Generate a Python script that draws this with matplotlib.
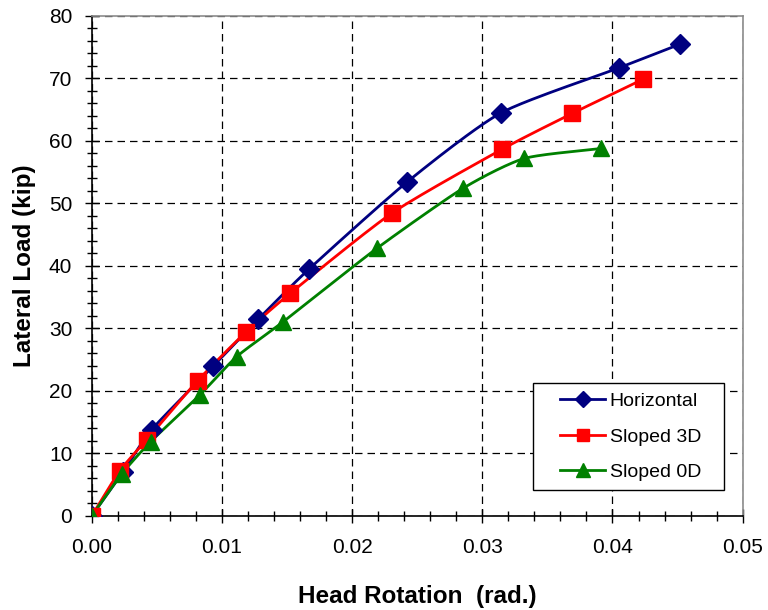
import numpy as np
import matplotlib
matplotlib.use("Agg")
import matplotlib.pyplot as plt
from matplotlib.ticker import MultipleLocator, FormatStrFormatter
from matplotlib.legend_handler import HandlerLine2D

plt.rcParams['font.family'] = ['Liberation Sans', 'DejaVu Sans']

# Head rotation (rad.) and lateral load (kip) for each test
horiz_x = [0.0, 0.00243, 0.0046, 0.00934, 0.0128, 0.01669, 0.0242, 0.03144, 0.0405, 0.0452]
horiz_y = [0.0, 7.1, 13.8, 24.0, 31.5, 39.5, 53.4, 64.5, 71.7, 75.5]

slope3_x = [0.0, 0.00217, 0.00422, 0.00814, 0.01183, 0.01523, 0.02309, 0.03154, 0.0369, 0.04237]
slope3_y = [0.0, 7.25, 12.2, 21.65, 29.4, 35.6, 48.5, 58.7, 64.4, 69.9]

slope0_x = [0.0, 0.0023, 0.00453, 0.00832, 0.01114, 0.01472, 0.02189, 0.0285, 0.03322, 0.0391]
slope0_y = [0.0, 6.7, 11.9, 19.4, 25.5, 31.1, 42.8, 52.4, 57.2, 58.8]

series_names = ["Horizontal", "Sloped 3D", "Sloped 0D"]


def smooth(xs, ys, n=24, k=0.33):
    """Cardinal spline through the given points (parametric, tangent factor k)."""
    p = np.column_stack([xs, ys]).astype(float)
    scale = np.array([1 / 0.05, 1 / 80.0])
    q = p * scale
    q = np.vstack([2 * q[0] - q[1], q, 2 * q[-1] - q[-2]])
    out = []
    t = np.linspace(0, 1, n, endpoint=False)[:, None]
    h00 = 2 * t ** 3 - 3 * t ** 2 + 1
    h10 = t ** 3 - 2 * t ** 2 + t
    h01 = -2 * t ** 3 + 3 * t ** 2
    h11 = t ** 3 - t ** 2
    for i in range(1, len(q) - 2):
        p0, p1, p2, p3 = q[i - 1], q[i], q[i + 1], q[i + 2]
        m1 = k * (p2 - p0)
        m2 = k * (p3 - p1)
        out.append(h00 * p1 + h10 * m1 + h01 * p2 + h11 * m2)
    out.append(q[-2][None, :])
    out = np.vstack(out) / scale
    return out[:, 0], out[:, 1]


fig = plt.figure(figsize=(7.68, 6.10), dpi=100)
ax = fig.add_axes([0.1194, 0.1541, 0.8476, 0.8197])

styles = [
    (horiz_x, horiz_y, "#000080", "D", 10),
    (slope3_x, slope3_y, "#FF0000", "s", 11),
    (slope0_x, slope0_y, "#008000", "^", 12),
]
handles = []
for (xs, ys, c, m, ms), name in zip(styles, series_names):
    sx, sy = smooth(xs, ys)
    ax.plot(sx, sy, color=c, lw=2.0, zorder=3)
    ax.plot(xs, ys, ls="none", marker=m, ms=ms, color=c, mec=c, zorder=4)
    h, = ax.plot([], [], color=c, lw=2.0, marker=m, ms=ms * 0.85, mec=c, label=name)
    handles.append(h)

ax.set_xlim(0, 0.05)
ax.set_ylim(0, 80)
ax.xaxis.set_major_locator(MultipleLocator(0.01))
ax.xaxis.set_minor_locator(MultipleLocator(0.002))
ax.yaxis.set_major_locator(MultipleLocator(10))
ax.yaxis.set_minor_locator(MultipleLocator(2))
ax.xaxis.set_major_formatter(FormatStrFormatter("%.2f"))
ax.yaxis.set_major_formatter(FormatStrFormatter("%d"))

ax.grid(True, which="major", color="black", lw=0.9, linestyle=(0, (6, 4)))
ax.set_axisbelow(True)

ax.tick_params(which="major", direction="inout", length=10, width=1.0, labelsize=15, colors="black")
ax.tick_params(axis="x", which="major", pad=11)
ax.tick_params(axis="y", which="major", pad=9)
ax.tick_params(which="minor", direction="inout", length=7, width=1.0)

ax.spines["left"].set_color("black")
ax.spines["bottom"].set_color("black")
ax.spines["left"].set_linewidth(1.2)
ax.spines["bottom"].set_linewidth(1.2)
for s in ("top", "right"):
    ax.spines[s].set_color("#8c8c8c")
    ax.spines[s].set_linewidth(1.2)

ax.set_xlabel("Head Rotation  (rad.)", fontsize=17.5, fontweight="bold", labelpad=20)
ax.set_ylabel("Lateral Load (kip)", fontsize=17.5, fontweight="bold", labelpad=9)

leg = ax.legend(handles=handles, loc="lower left",
                bbox_to_anchor=(0.678, 0.052, 0.293, 0.2), mode="expand",
                fontsize=14, frameon=True, fancybox=False, edgecolor="black",
                framealpha=1, handlelength=3.25, handletextpad=0.25, labelspacing=0.93,
                borderpad=0.45, borderaxespad=0,
                handler_map={h: HandlerLine2D(xpad=0.95) for h in handles})
leg.get_frame().set_linewidth(1.0)

fig.savefig("out.png", dpi=100)
